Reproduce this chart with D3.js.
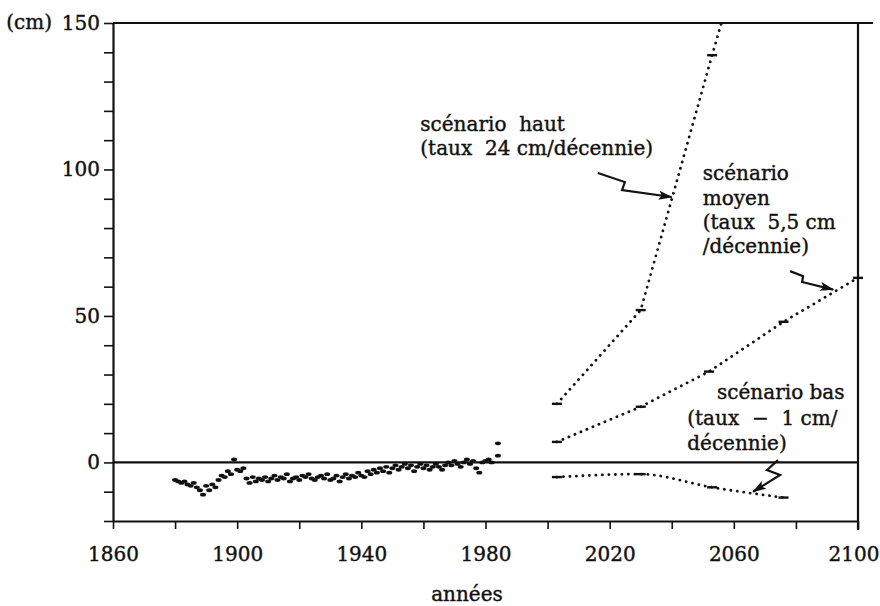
<!DOCTYPE html>
<html>
<head>
<meta charset="utf-8">
<script src="https://cdn.jsdelivr.net/npm/d3@7"></script>
<style>
  body { margin: 0; background: #fff; }
</style>
</head>
<body>
<div id="chart"></div>
<script>
// observed sea level (cm), one value per year
const obsYears = [1880,1881,1882,1883,1884,1885,1886,1887,1888,1889,
  1890,1891,1892,1893,1894,1895,1896,1897,1898,1899,
  1900,1901,1902,1903,1904,1905,1906,1907,1908,1909,
  1910,1911,1912,1913,1914,1915,1916,1917,1918,1919,
  1920,1921,1922,1923,1924,1925,1926,1927,1928,1929,
  1930,1931,1932,1933,1934,1935,1936,1937,1938,1939,
  1940,1941,1942,1943,1944,1945,1946,1947,1948,1949,
  1950,1951,1952,1953,1954,1955,1956,1957,1958,1959,
  1960,1961,1962,1963,1964,1965,1966,1967,1968,1969,
  1970,1971,1972,1973,1974,1975,1976,1977,1978,1979,
  1980,1981,1982,1984,1984];
const obsValues = [-6,-6.5,-7,-6.5,-7.5,-8,-7,-8.5,-9.5,-11,
  -8,-9.5,-7.5,-8.5,-6,-4.5,-5,-3,-4,1,
  -2.5,-3,-2,-5.5,-7,-5,-6.5,-5.5,-6,-5,
  -6.5,-5.5,-4.5,-6,-5,-5.5,-4,-6.5,-5.5,-5,
  -6,-4.5,-5,-4,-5.5,-6,-5,-4.5,-5.5,-4,
  -6,-5.5,-4.5,-6.5,-5,-4,-5.5,-4.5,-5,-3.5,
  -4.5,-5,-3,-4,-2.5,-3.5,-2,-3,-1.5,-3.5,
  -2,-1,-2.5,-1.5,-0.5,-2,-1,-3,-1.5,-0.5,
  -2,-1,-2.5,-1.5,-0.5,-1.5,-2.5,-1,0,-1,
  0.5,-0.5,-1.5,0,1,-0.5,0.5,-2,-3.5,0,
  0.5,1,0,6.5,2.3];

// scenarios (year, cm)
const hautYears = [2003, 2030, 2053, 2056];
const hautValues = [20, 52, 139, 150];
const moyenYears = [2003, 2030, 2052, 2076, 2100];
const moyenValues = [7, 19, 31, 48, 63];
const basYears = [2003, 2030, 2053, 2076];
const basValues = [-5, -4, -8.5, -12];

// axis ticks
const xTicks = [1860,1880,1900,1920,1940,1960,1980,2000,2020,2040,2060,2080,2100];
const xLabels = [1860,1900,1940,1980,2020,2060,2100];
const yTicks = [-20,-10,0,10,20,30,40,50,60,70,80,90,100,110,120,130,140,150];
const yLabels = [0,50,100,150];

// annotations, anchored in data units (first baseline)
const notes = [
  { year: 1959, cm: 113, step: 24, lines: ["scénario  haut", "(taux  24 cm/décennie)"] },
  { year: 2050, cm: 96.3, step: 24.3, lines: ["scénario", "moyen", "(taux  5,5 cm", "/décennie)"] },
  { year: 2054.6, cm: 21.7, step: 25, lines: ["scénario bas"] },
  { year: 2045, cm: 12.7, step: 25, lines: ["(taux  −  1 cm/", "décennie)"] }
];
const arrows = [
  [[2016.2, 98.8], [2024.9, 95.7], [2024, 93], [2040, 90.6]],
  [[2078.1, 65.3], [2082.3, 63.6], [2082, 61.6], [2092, 59]],
  [[2074.2, 0.8], [2070.7, -2.6], [2074.9, -4.3], [2066.2, -10]]
];

const width = 880;
const height = 606;
const serif = '"DejaVu Serif", "Liberation Serif", "Times New Roman", serif';

const svg = d3.select('#chart')
  .append('svg')
  .attr('width', width)
  .attr('height', height)
  .attr('font-family', serif);

const x = d3.scaleLinear()
  .domain([1860, 2100])
  .range([113, 858]);

const y = d3.scaleLinear()
  .domain([-20, 150])
  .range([521, 23]);

svg.append('defs').append('marker')
  .attr('id', 'head')
  .attr('markerUnits', 'userSpaceOnUse')
  .attr('viewBox', '0 0 14 9')
  .attr('refX', 13)
  .attr('refY', 4.5)
  .attr('markerWidth', 15)
  .attr('markerHeight', 9)
  .attr('orient', 'auto')
  .append('path')
  .attr('d', 'M0,0 L14,4.5 L0,9 L3,4.5 Z')
  .attr('fill', '#111');

// axes
function xAxis(g) {
  g.attr('transform', `translate(0,${y(-20)})`)
    .call(d3.axisBottom(x)
      .tickValues(xTicks)
      .tickSize(8)
      .tickSizeOuter(0)
      .tickPadding(18)
      .tickFormat(d => xLabels.includes(d) ? d : ''))
    .attr('font-size', '20px')
    .attr('font-family', serif);
  // keep the last year inside the picture
  g.selectAll('.tick text')
    .filter(d => d === 2100)
    .attr('text-anchor', 'end')
    .attr('x', 21);
}

function yAxis(g) {
  g.attr('transform', `translate(${x(1860)},0)`)
    .call(d3.axisLeft(y)
      .tickValues(yTicks)
      .tickSize(9)
      .tickSizeOuter(0)
      .tickPadding(4)
      .tickFormat(d => yLabels.includes(d) ? d : ''))
    .attr('font-size', '20px')
    .attr('font-family', serif);
}

svg.append('g').call(xAxis);
svg.append('g').call(yAxis);

svg.selectAll('.domain').attr('stroke', '#111').attr('stroke-width', 2.2);
svg.selectAll('.tick line').attr('stroke', '#111').attr('stroke-width', 1.6);
svg.selectAll('.tick text')
  .attr('fill', '#111')
  .attr('stroke', '#111')
  .attr('stroke-width', 0.4);

// frame: top, right, zero line
const frame = svg.append('g').attr('stroke', '#111').attr('stroke-width', 2.2);
frame.append('line')
  .attr('x1', x(1860)).attr('x2', x(2100) + 15)
  .attr('y1', y(150)).attr('y2', y(150));
frame.append('line')
  .attr('x1', x(2100)).attr('x2', x(2100))
  .attr('y1', y(150)).attr('y2', y(-20) + 9);
frame.append('line')
  .attr('x1', x(1860)).attr('x2', x(2100))
  .attr('y1', y(0)).attr('y2', y(0));

svg.append('text')
  .attr('x', 52)
  .attr('y', y(150))
  .attr('dy', '0.32em')
  .attr('text-anchor', 'end')
  .attr('font-size', '20px')
  .attr('fill', '#111')
  .attr('stroke', '#111')
  .attr('stroke-width', 0.4)
  .text('(cm)');

svg.append('text')
  .attr('x', 467)
  .attr('y', 601)
  .attr('text-anchor', 'middle')
  .attr('font-size', '20px')
  .attr('fill', '#111')
  .attr('stroke', '#111')
  .attr('stroke-width', 0.4)
  .text('années');

// observed points
svg.append('g')
  .attr('fill', '#111')
  .selectAll('ellipse')
  .data(obsYears)
  .join('ellipse')
    .attr('cx', d => x(d))
    .attr('cy', (d, i) => y(obsValues[i]))
    .attr('rx', 3)
    .attr('ry', 1.9);

// scenario lines
const scenarios = [
  { years: hautYears, values: hautValues, curve: d3.curveLinear },
  { years: moyenYears, values: moyenValues, curve: d3.curveLinear },
  { years: basYears, values: basValues, curve: d3.curveMonotoneX }
];

scenarios.forEach(s => {
  const pts = s.years.map((yr, i) => [yr, s.values[i]]);
  const line = d3.line()
    .x(d => x(d[0]))
    .y(d => y(d[1]))
    .curve(s.curve);

  svg.append('path')
    .attr('d', line(pts))
    .attr('fill', 'none')
    .attr('stroke', '#111')
    .attr('stroke-width', 2.8)
    .attr('stroke-linecap', 'round')
    .attr('stroke-dasharray', '0.1 6.4');

  // small dash at each computed step
  svg.append('g')
    .attr('stroke', '#111')
    .attr('stroke-width', 2.4)
    .selectAll('line')
    .data(pts.filter(d => d[1] < 150))
    .join('line')
      .attr('x1', d => x(d[0]) - 5)
      .attr('x2', d => x(d[0]) + 5)
      .attr('y1', d => y(d[1]))
      .attr('y2', d => y(d[1]));
});

// annotation text
notes.forEach(n => {
  const t = svg.append('text')
    .attr('x', x(n.year))
    .attr('y', y(n.cm))
    .attr('font-size', '20px')
    .attr('fill', '#111')
    .attr('stroke', '#111')
    .attr('stroke-width', 0.4)
    .style('white-space', 'pre');
  n.lines.forEach((l, i) => {
    t.append('tspan')
      .attr('x', x(n.year))
      .attr('dy', i === 0 ? 0 : n.step)
      .text(l);
  });
});

// squiggly arrows
const arrowLine = d3.line()
  .x(d => x(d[0]))
  .y(d => y(d[1]));

svg.append('g')
  .selectAll('path')
  .data(arrows)
  .join('path')
    .attr('d', arrowLine)
    .attr('fill', 'none')
    .attr('stroke', '#111')
    .attr('stroke-width', 2.2)
    .attr('marker-end', 'url(#head)');
</script>
</body>
</html>
